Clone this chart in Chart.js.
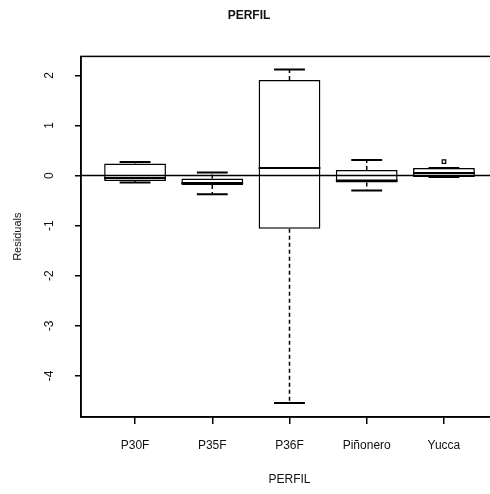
<!DOCTYPE html>
<html>
<head>
<meta charset="utf-8">
<script src="https://cdn.jsdelivr.net/npm/chart.js@4"></script>
<style>
  html, body { margin: 0; padding: 0; background: #fff; overflow: hidden; }
  #wrap { position: absolute; left: 0; top: 0; width: 510px; height: 494px; }
</style>
</head>
<body>
<div id="wrap"><canvas id="chart1"></canvas></div>
<script>
// residuals by profile
const categories = ['P30F', 'P35F', 'P36F', 'Piñonero', 'Yucca'];
const whiskerLow  = [-0.14, -0.37, -4.54, -0.30, -0.03];
const boxLow      = [-0.11, -0.19, -1.06, -0.14, -0.03];
const medians     = [-0.05, -0.15,  0.15, -0.10,  0.05];
const boxHigh     = [ 0.24, -0.06,  1.91,  0.11,  0.15];
const whiskerHigh = [ 0.27,  0.06,  2.12,  0.31,  0.15];
const outlierPos  = [5];
const outlierVals = [0.28];
const yTicks = [-4, -3, -2, -1, 0, 1, 2];
const xTicks = [1, 2, 3, 4, 5];

const font = '"Liberation Sans", Arial, sans-serif';

// whiskers, caps, medians, zero line, frame, rotated y labels
const boxExtras = {
    id: 'boxExtras',
    afterDatasetsDraw(chart) {
        const c = chart.ctx;
        const x = chart.scales.x;
        const y = chart.scales.y;
        const area = chart.chartArea;
        const unit = x.getPixelForValue(2) - x.getPixelForValue(1);

        c.save();
        c.strokeStyle = '#000';
        categories.forEach((cat, i) => {
            const cx = x.getPixelForValue(i + 1);
            const half = unit * 0.4;
            const cap = unit * 0.2;

            // dashed whiskers
            c.lineWidth = 1.5;
            c.setLineDash([4, 3]);
            c.beginPath();
            c.moveTo(cx, y.getPixelForValue(boxHigh[i]));
            c.lineTo(cx, y.getPixelForValue(whiskerHigh[i]));
            c.moveTo(cx, y.getPixelForValue(boxLow[i]));
            c.lineTo(cx, y.getPixelForValue(whiskerLow[i]));
            c.stroke();
            c.setLineDash([]);

            // caps
            c.lineWidth = 2;
            c.beginPath();
            c.moveTo(cx - cap, y.getPixelForValue(whiskerHigh[i]));
            c.lineTo(cx + cap, y.getPixelForValue(whiskerHigh[i]));
            c.moveTo(cx - cap, y.getPixelForValue(whiskerLow[i]));
            c.lineTo(cx + cap, y.getPixelForValue(whiskerLow[i]));
            c.stroke();

            // median
            c.lineWidth = 2;
            c.beginPath();
            c.moveTo(cx - half, y.getPixelForValue(medians[i]));
            c.lineTo(cx + half, y.getPixelForValue(medians[i]));
            c.stroke();
        });

        // h = 0
        c.lineWidth = 1.5;
        c.beginPath();
        c.moveTo(area.left, y.getPixelForValue(0));
        c.lineTo(area.right, y.getPixelForValue(0));
        c.stroke();

        // frame
        c.lineWidth = 1.5;
        c.strokeRect(area.left, area.top, area.right - area.left, area.bottom - area.top);

        // y tick labels, rotated like base graphics
        c.fillStyle = '#111';
        c.font = '12px ' + font;
        c.textAlign = 'center';
        c.textBaseline = 'middle';
        yTicks.forEach(v => {
            c.save();
            c.translate(50, y.getPixelForValue(v));
            c.rotate(-Math.PI / 2);
            c.fillText(String(v), 0, 0);
            c.restore();
        });
        c.restore();
    }
};

const ctx = document.getElementById('chart1');
const chart1 = new Chart(ctx, {
    data: {
        datasets: [{
            type: 'bar',
            data: categories.map((cat, i) => ({ x: i + 1, y: [boxLow[i], boxHigh[i]] })),
            backgroundColor: '#fff',
            borderColor: '#000',
            borderWidth: 1.5,
            borderSkipped: false,
            categoryPercentage: 1,
            barPercentage: 0.8
        }, {
            type: 'scatter',
            data: outlierPos.map((p, i) => ({ x: p, y: outlierVals[i] })),
            pointStyle: 'rect',
            pointRadius: 2.5,
            backgroundColor: '#fff',
            borderColor: '#000',
            borderWidth: 1.2
        }]
    },
    options: {
        responsive: true,
        maintainAspectRatio: false,
        animation: false,
        layout: { padding: { left: 0, right: 12, top: 0, bottom: 0 } },
        plugins: {
            legend: { display: false },
            tooltip: { enabled: false },
            title: {
                display: true,
                text: 'PERFIL',
                color: '#111',
                font: { family: font, size: 12, weight: 'bold' },
                padding: { top: 8, bottom: 34 }
            }
        },
        scales: {
            x: {
                type: 'linear',
                min: 0.3,
                max: 5.7,
                offset: false,
                afterBuildTicks: s => { s.ticks = xTicks.map(v => ({ value: v })); },
                afterFit: s => { s.height = 77; },
                ticks: {
                    color: '#111',
                    font: { family: font, size: 12 },
                    padding: 14,
                    maxRotation: 0,
                    callback: v => categories[v - 1]
                },
                grid: { offset: false, drawOnChartArea: false, drawTicks: true, tickLength: 7, color: '#000', lineWidth: 1.5 },
                border: { display: true, color: '#000', width: 1.5 },
                title: {
                    display: true,
                    text: 'PERFIL',
                    color: '#111',
                    font: { family: font, size: 12 },
                    padding: { top: 0, bottom: 7 }
                }
            },
            y: {
                type: 'linear',
                min: -4.82,
                max: 2.38,
                afterBuildTicks: s => { s.ticks = yTicks.map(v => ({ value: v })); },
                afterFit: s => { s.width = 81; },
                ticks: { display: false },
                grid: { drawOnChartArea: false, drawTicks: true, tickLength: 6, color: '#000', lineWidth: 1.5 },
                border: { display: true, color: '#000', width: 1.5 },
                title: {
                    display: true,
                    text: 'Residuals',
                    color: '#111',
                    font: { family: font, size: 11 },
                    padding: { top: 11, bottom: 0 }
                }
            }
        }
    },
    plugins: [boxExtras]
});
</script>
</body>
</html>
